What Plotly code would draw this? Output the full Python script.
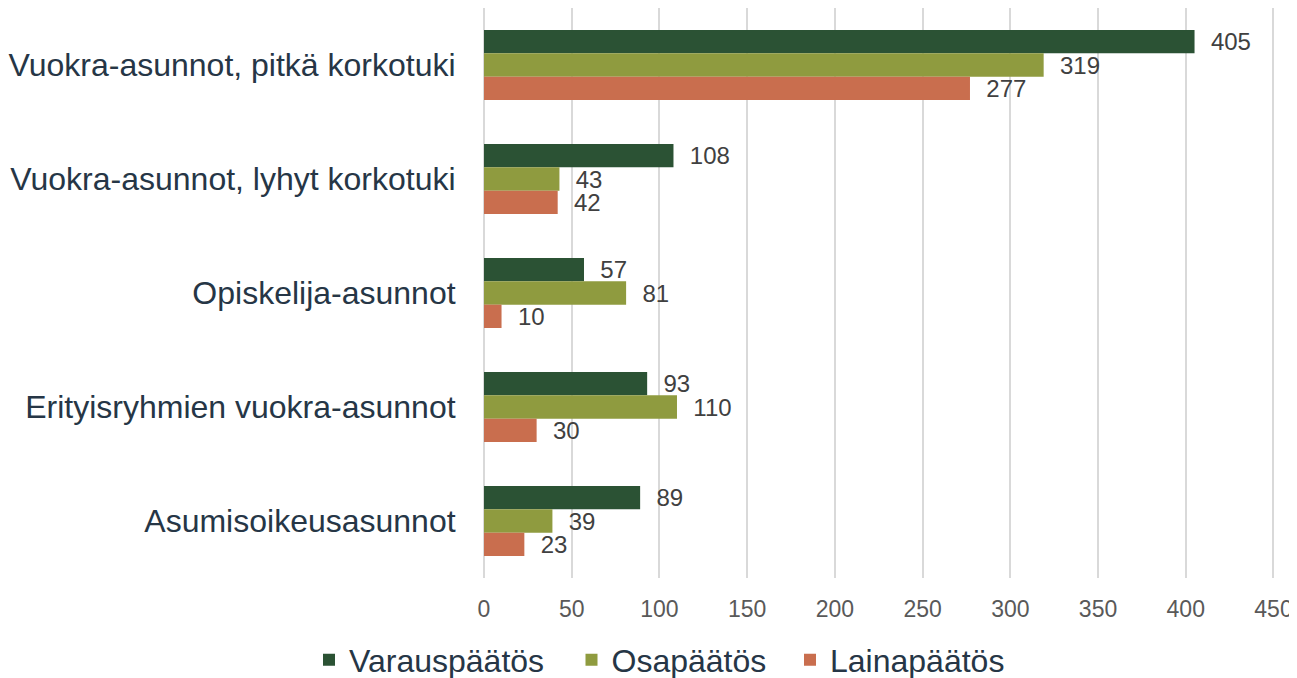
import plotly.graph_objects as go

categories = [
    "Vuokra-asunnot, pitkä korkotuki",
    "Vuokra-asunnot, lyhyt korkotuki",
    "Opiskelija-asunnot",
    "Erityisryhmien vuokra-asunnot",
    "Asumisoikeusasunnot",
]
series_names = ["Varauspäätös", "Osapäätös", "Lainapäätös"]
varaus = [405, 108, 57, 93, 89]
osa = [319, 43, 81, 110, 39]
laina = [277, 42, 10, 30, 23]
colors = ["#2B5234", "#8F9B3F", "#C96E4E"]
x_ticks = [0, 50, 100, 150, 200, 250, 300, 350, 400, 450]

FONT = "Arial, Liberation Sans, sans-serif"
W, H = 1289, 670
legend_ids = ["legend", "legend2", "legend3"]
legend_x = [301, 563.5, 782]

fig = go.Figure()
for name, vals, col, lid in zip(series_names, [varaus, osa, laina], colors, legend_ids):
    fig.add_trace(go.Bar(
        y=categories, x=vals, name=name, orientation="h", legend=lid,
        showlegend=True,
        marker=dict(color=col, line=dict(width=0)),
        text=vals, texttemplate="  %{x}", textposition="outside",
        constraintext="none",
        textfont=dict(family=FONT, size=24, color="#404040"),
        cliponaxis=False,
    ))

legend_common = dict(orientation="h", xref="container", yref="container",
                     xanchor="left", y=1 - 652 / H, yanchor="middle",
                     font=dict(family=FONT, size=32, color="#263646"),
                     bgcolor="rgba(0,0,0,0)")

fig.update_layout(
    width=W, height=H,
    showlegend=True,
    margin=dict(l=476, r=20, t=0, b=100),
    barmode="group", bargap=0.386, bargroupgap=0,
    plot_bgcolor="white", paper_bgcolor="white",
    font=dict(family=FONT),
    xaxis=dict(range=[0, 452], tickvals=x_ticks, showgrid=True,
               gridcolor="#D9D9D9", gridwidth=2, zeroline=True,
               zerolinecolor="#D9D9D9", zerolinewidth=2,
               showline=False, ticklabeloverflow="allow",
               tickfont=dict(size=23, color="#595959"), ticks="outside",
               ticklen=10, tickcolor="rgba(0,0,0,0)"),
    yaxis=dict(autorange="reversed", automargin=False, showgrid=False,
               tickfont=dict(size=32, color="#263646"),
               ticks="outside", ticklen=21, tickcolor="rgba(0,0,0,0)"),
    legend=dict(x=legend_x[0] / W, **legend_common),
    legend2=dict(x=legend_x[1] / W, **legend_common),
    legend3=dict(x=legend_x[2] / W, **legend_common),
)
fig.write_html("out.html")
